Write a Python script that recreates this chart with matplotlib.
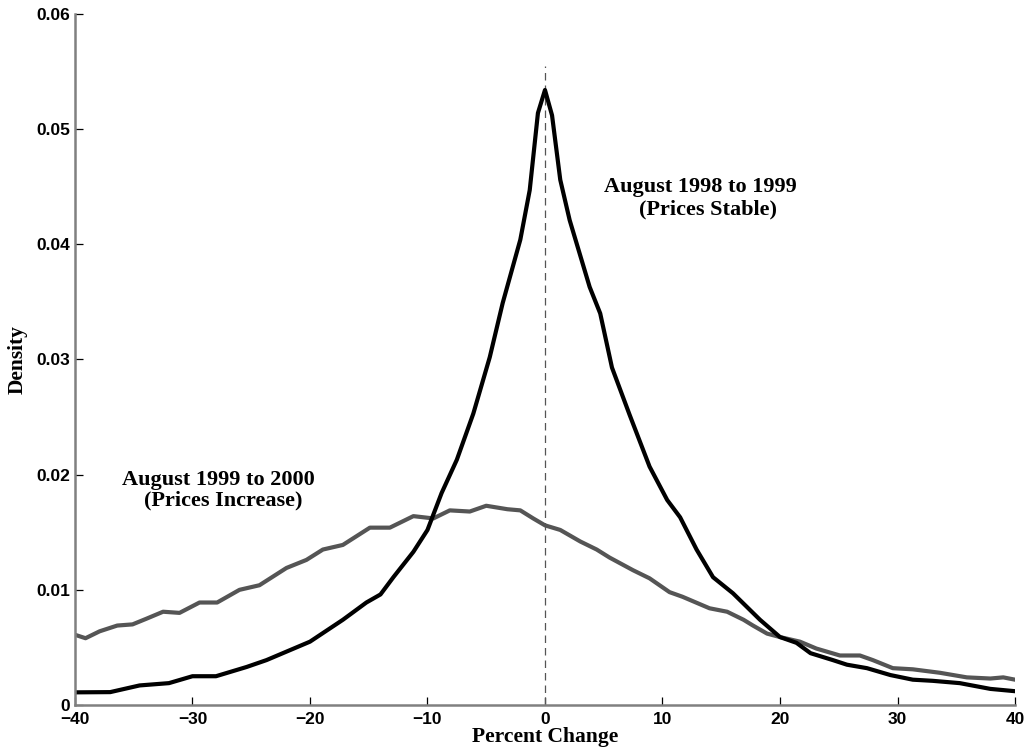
import numpy as np
import matplotlib.pyplot as plt

# August 1998 to 1999 (prices stable) - black curve
x_stable = [-40, -37, -34.5, -32, -30, -28, -25.4, -23.7, -20, -17.2, -15.2, -14.0,
            -12.9, -11.2, -10.0, -8.8, -7.5, -6.1, -4.7, -3.6, -2.1, -1.3, -0.6, 0,
            0.6, 1.3, 2.1, 3.8, 4.7, 5.7, 7.2, 8.9, 10.4, 11.5, 12.9, 14.3, 16.0,
            17.2, 18.3, 20.0, 21.4, 22.6, 24.5, 25.7, 27.4, 29.4, 31.3, 33.0, 35.3,
            37.9, 40]
y_stable = [0.0011, 0.00112, 0.0017, 0.0019, 0.0025, 0.0025, 0.0033, 0.0039, 0.0055,
            0.0074, 0.0089, 0.0096, 0.0111, 0.0133, 0.0152, 0.0184, 0.0213, 0.0253,
            0.0302, 0.0349, 0.0404, 0.0447, 0.0514, 0.0534, 0.0512, 0.0456, 0.0421,
            0.0363, 0.0340, 0.0293, 0.0252, 0.0207, 0.0178, 0.0163, 0.0135, 0.0111,
            0.0097, 0.0085, 0.0074, 0.0059, 0.0054, 0.0045, 0.0039, 0.0035, 0.0032,
            0.0026, 0.0022, 0.0021, 0.0019, 0.0014, 0.0012]

# August 1999 to 2000 (prices increase) - gray curve
x_incr = [-40, -39.1, -37.9, -36.4, -35.1, -33.9, -32.5, -31.1, -29.4, -27.9, -26,
          -24.3, -22.0, -20.3, -18.9, -17.2, -14.9, -13.2, -11.2, -9.5, -8.1, -6.4,
          -5.0, -3.2, -2.1, -1.0, 0, 1.3, 3.0, 4.4, 5.5, 7.5, 8.9, 10.6, 11.7, 14.0,
          15.5, 16.9, 17.7, 18.9, 20, 21.7, 23.1, 25.1, 26.8, 27.9, 29.6, 31.3, 33.6,
          35.9, 37.9, 39, 40]
y_incr = [0.0061, 0.0058, 0.0064, 0.0069, 0.0070, 0.0075, 0.0081, 0.0080, 0.0089,
          0.0089, 0.0100, 0.0104, 0.0119, 0.0126, 0.0135, 0.0139, 0.0154, 0.0154,
          0.0164, 0.0162, 0.0169, 0.0168, 0.0173, 0.0170, 0.0169, 0.0162, 0.0156,
          0.0152, 0.0142, 0.0135, 0.0128, 0.0117, 0.0110, 0.0098, 0.0094, 0.0084,
          0.0081, 0.0074, 0.0069, 0.0062, 0.0059, 0.0055, 0.0049, 0.0043, 0.0043,
          0.0039, 0.0032, 0.0031, 0.0028, 0.0024, 0.0023, 0.0024, 0.0022]

x_ticks = [-40, -30, -20, -10, 0, 10, 20, 30, 40]
y_ticks = [0, 0.01, 0.02, 0.03, 0.04, 0.05, 0.06]
y_ticklabels = ["0", "0.01", "0.02", "0.03", "0.04", "0.05", "0.06"]

serif = ["Liberation Serif", "DejaVu Serif"]
sans = ["Liberation Sans", "DejaVu Sans"]

fig = plt.figure(figsize=(10.31, 7.55), dpi=100)
ax = fig.add_axes([0.0727, 0.0662, 0.9118, 0.9153])

ax.plot([0, 0], [0, 0.0555], color="#555555", lw=0.9, ls=(0, (6, 4)))
ax.plot(x_incr, y_incr, color="#555555", lw=3.0, solid_joinstyle="round")
ax.plot(x_stable, y_stable, color="black", lw=3.0, solid_joinstyle="round")

ax.set_xlim(-40, 40)
ax.set_ylim(0, 0.06)
ax.set_xticks(x_ticks)
ax.set_yticks(y_ticks)
ax.set_yticklabels(y_ticklabels)
for lab in ax.get_xticklabels() + ax.get_yticklabels():
    lab.set_family(sans)
    lab.set_fontweight("bold")
    lab.set_fontsize(12.5)
ax.tick_params(direction="in", length=6, width=0.9, color="black")
ax.tick_params(axis="y", pad=3.5)
ax.tick_params(axis="x", pad=5)

for s in ["top", "right"]:
    ax.spines[s].set_visible(False)
for s in ["left", "bottom"]:
    ax.spines[s].set_color("#808080")
    ax.spines[s].set_linewidth(1.8)

ax.set_xlabel("Percent Change", family=serif, fontweight="bold", fontsize=15.5, labelpad=0)
ax.set_ylabel("Density", family=serif, fontweight="bold", fontsize=15.5, labelpad=6)

ax.text(5.0, 0.0450, "August 1998 to 1999", family=serif,
        fontweight="bold", fontsize=16, ha="left", va="center")
ax.text(8.0, 0.0430, "(Prices Stable)", family=serif,
        fontweight="bold", fontsize=16, ha="left", va="center")
ax.text(-36.0, 0.0195, "August 1999 to 2000", family=serif,
        fontweight="bold", fontsize=16, ha="left", va="center")
ax.text(-34.1, 0.0178, "(Prices Increase)", family=serif,
        fontweight="bold", fontsize=16, ha="left", va="center")

plt.savefig("out.png", dpi=100)
